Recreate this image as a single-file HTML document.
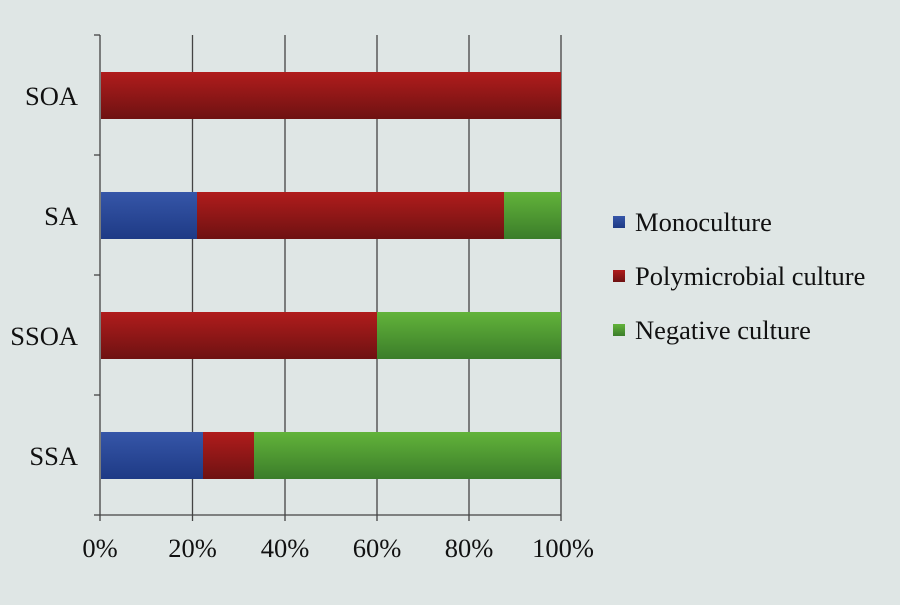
<!DOCTYPE html>
<html><head><style>
body{margin:0;width:900px;height:600px;background:#dfe6e5;overflow:hidden}
svg text{font-family:"Liberation Serif",serif;fill:#111}
</style></head><body>
<svg width="900" height="600" xmlns="http://www.w3.org/2000/svg">
<defs>
<linearGradient id="b" x1="0" y1="0" x2="0" y2="1"><stop offset="0" stop-color="#3656a8"/><stop offset="1" stop-color="#1e3a85"/></linearGradient>
<linearGradient id="r" x1="0" y1="0" x2="0" y2="1"><stop offset="0" stop-color="#b01c1c"/><stop offset="1" stop-color="#6e1212"/></linearGradient>
<linearGradient id="g" x1="0" y1="0" x2="0" y2="1"><stop offset="0" stop-color="#62b33a"/><stop offset="1" stop-color="#3b7d2a"/></linearGradient>
</defs>
<g stroke="#444" stroke-width="1.3">
<line x1="100" y1="35" x2="100" y2="515"/>
<line x1="192.5" y1="35" x2="192.5" y2="515"/>
<line x1="285" y1="35" x2="285" y2="515"/>
<line x1="377" y1="35" x2="377" y2="515"/>
<line x1="469" y1="35" x2="469" y2="515"/>
<line x1="561" y1="35" x2="561" y2="515"/>
<line x1="100" y1="515" x2="561" y2="515"/>
<line x1="94" y1="35" x2="100" y2="35"/><line x1="94" y1="155" x2="100" y2="155"/><line x1="94" y1="275" x2="100" y2="275"/><line x1="94" y1="395" x2="100" y2="395"/><line x1="94" y1="515" x2="100" y2="515"/>
<line x1="100" y1="515" x2="100" y2="521"/><line x1="192.5" y1="515" x2="192.5" y2="521"/><line x1="285" y1="515" x2="285" y2="521"/><line x1="377" y1="515" x2="377" y2="521"/><line x1="469" y1="515" x2="469" y2="521"/><line x1="561" y1="515" x2="561" y2="521"/>
</g>
<rect x="101" y="72" width="460" height="47" fill="url(#r)"/>
<rect x="101" y="192" width="96" height="47" fill="url(#b)"/>
<rect x="197" y="192" width="307" height="47" fill="url(#r)"/>
<rect x="504" y="192" width="57" height="47" fill="url(#g)"/>
<rect x="101" y="312" width="276" height="47" fill="url(#r)"/>
<rect x="377" y="312" width="184" height="47" fill="url(#g)"/>
<rect x="101" y="432" width="102" height="47" fill="url(#b)"/>
<rect x="203" y="432" width="51" height="47" fill="url(#r)"/>
<rect x="254" y="432" width="307" height="47" fill="url(#g)"/>
<g font-size="26.5" text-anchor="end">
<text x="78" y="105">SOA</text><text x="78" y="225">SA</text><text x="78" y="345">SSOA</text><text x="78" y="465">SSA</text>
</g>
<g font-size="26.5" text-anchor="middle">
<text x="100" y="557">0%</text><text x="192.5" y="557">20%</text><text x="285" y="557">40%</text><text x="377" y="557">60%</text><text x="469" y="557">80%</text><text x="563" y="557">100%</text>
</g>
<rect x="613" y="216" width="12" height="12" fill="url(#b)"/>
<rect x="613" y="270" width="12" height="12" fill="url(#r)"/>
<rect x="613" y="324" width="12" height="12" fill="url(#g)"/>
<g font-size="26.5">
<text x="635" y="231">Monoculture</text><text x="635" y="285">Polymicrobial culture</text><text x="635" y="339">Negative culture</text>
</g>
</svg>
</body></html>
